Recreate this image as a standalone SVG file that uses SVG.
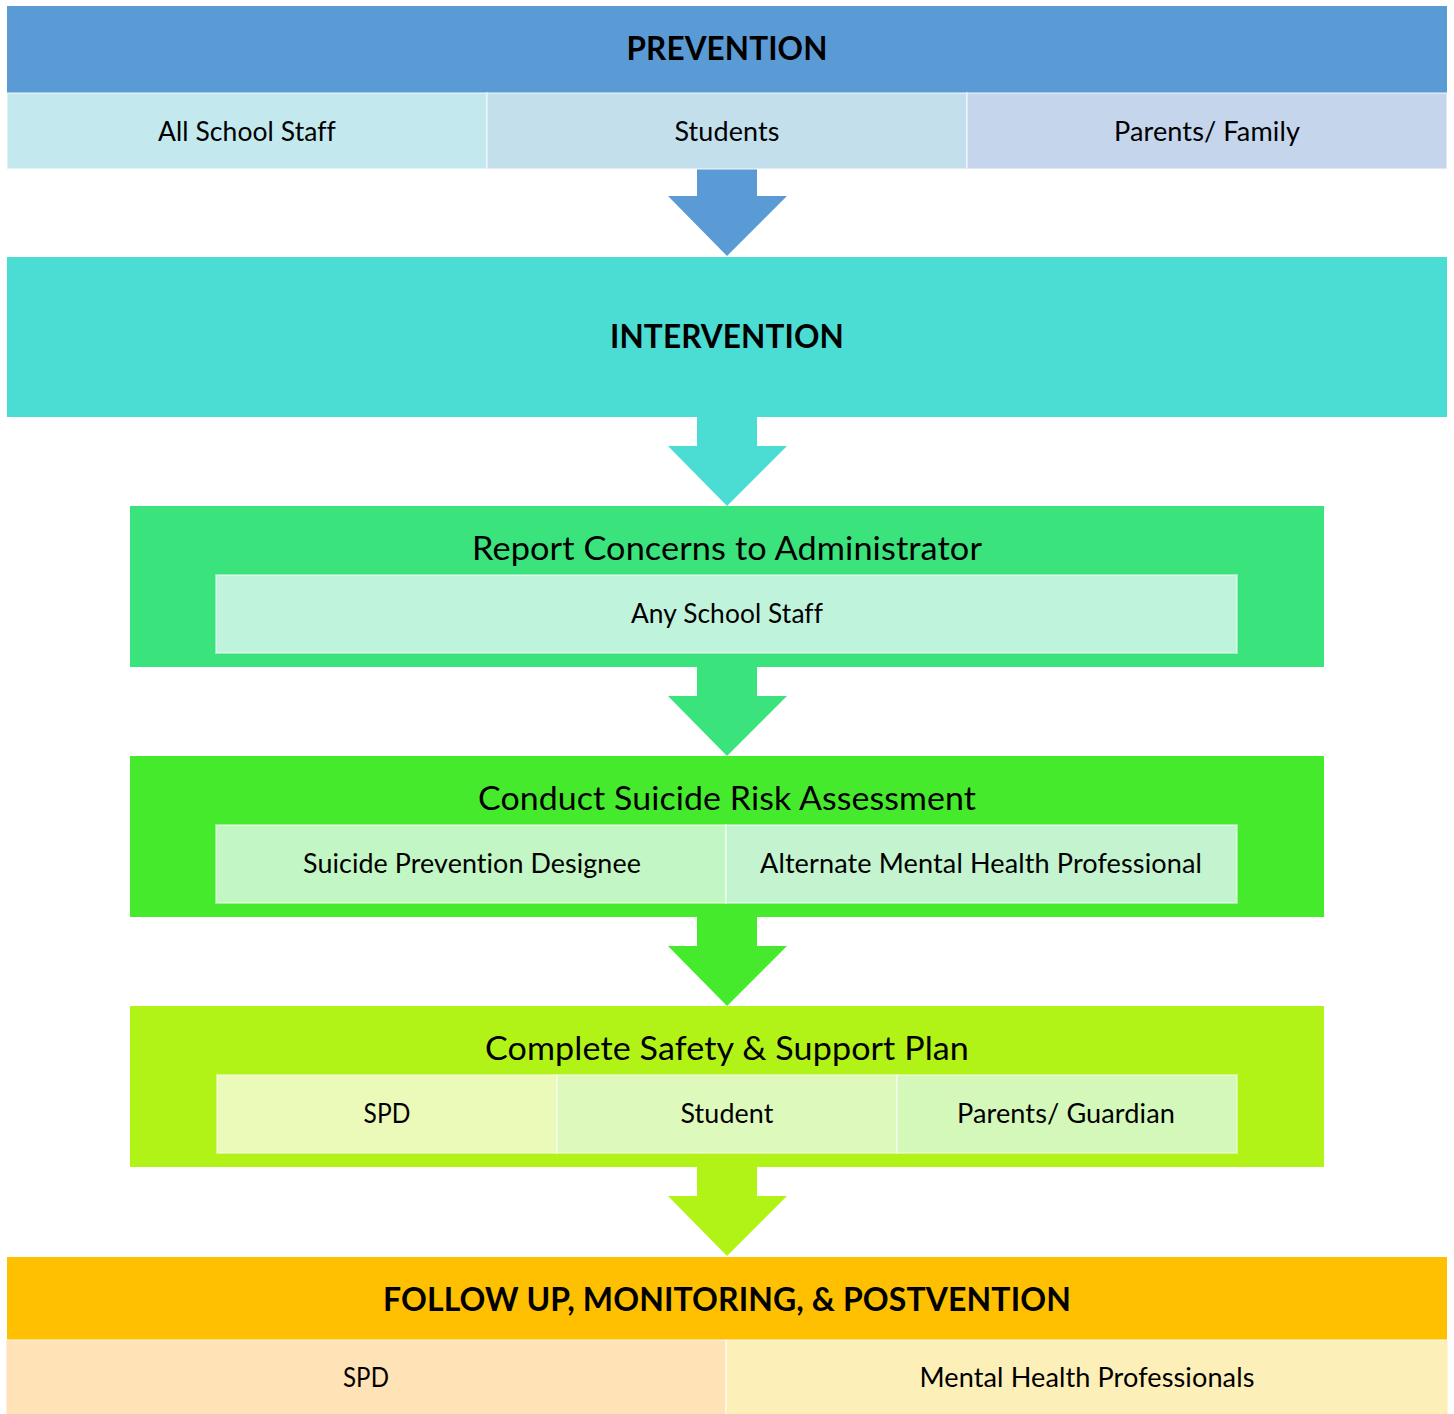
<svg xmlns="http://www.w3.org/2000/svg" width="1454" height="1414" viewBox="0 0 1454 1414">
<style>
text{font-family:Lato,"Open Sans","Liberation Sans",sans-serif;fill:#000;text-anchor:middle;font-variant-ligatures:none;font-feature-settings:"liga" 0,"clig" 0,"calt" 0,"dlig" 0;letter-spacing:0.1px}
.hd{font-weight:bold;font-size:33px}
.ti{font-size:32px}
.sb{font-size:26px}
.cell{stroke:#ffffff;stroke-opacity:0.45;stroke-width:2}
</style>
<rect width="1454" height="1414" fill="#ffffff"/>
<g id="connectors">
<polygon points="697,169 757,169 757,196 787,196 727,256 668,196 697,196" fill="#5B9BD5"/>
<polygon points="697,417 757,417 757,446 787,446 727,506 668,446 697,446" fill="#4BDDD3"/>
<polygon points="697,667 757,667 757,696 787,696 727,756 668,696 697,696" fill="#3BE37C"/>
<polygon points="697,917 757,917 757,946 787,946 727,1006 668,946 697,946" fill="#46EA2C"/>
<polygon points="697,1167 757,1167 757,1196 787,1196 727,1256 668,1196 697,1196" fill="#B2F317"/>
</g>
<g id="prevention">
<rect x="7" y="6" width="1440" height="87" fill="#5B9BD5"/>
<text class="hd" x="727" y="60" textLength="201" lengthAdjust="spacingAndGlyphs">PREVENTION</text>
<rect class="cell" x="7" y="93" width="480" height="76" fill="#C3E9EE"/>
<rect class="cell" x="487" y="93" width="480" height="76" fill="#C4DFEC"/>
<rect class="cell" x="967" y="93" width="480" height="76" fill="#C5D6EC"/>
<text class="sb" x="247" y="141" textLength="178" lengthAdjust="spacingAndGlyphs">All School Staff</text>
<text class="sb" x="727" y="141" textLength="105" lengthAdjust="spacingAndGlyphs">Students</text>
<text class="sb" x="1207" y="141" textLength="186" lengthAdjust="spacingAndGlyphs">Parents/ Family</text>
</g>
<g id="intervention">
<rect x="7" y="257" width="1440" height="160" fill="#4BDDD3"/>
<text class="hd" x="727" y="348" textLength="234" lengthAdjust="spacingAndGlyphs">INTERVENTION</text>
</g>
<g id="report">
<rect x="130" y="506" width="1194" height="161" fill="#3BE37C"/>
<text class="ti" x="727" y="560" textLength="510" lengthAdjust="spacingAndGlyphs">Report Concerns to Administrator</text>
<rect class="cell" x="216" y="575" width="1021" height="78" fill="#C0F3DC"/>
<text class="sb" x="727" y="623" textLength="192" lengthAdjust="spacingAndGlyphs">Any School Staff</text>
</g>
<g id="assessment">
<rect x="130" y="756" width="1194" height="161" fill="#46EA2C"/>
<text class="ti" x="727" y="810" textLength="498" lengthAdjust="spacingAndGlyphs">Conduct Suicide Risk Assessment</text>
<rect class="cell" x="216" y="825" width="510" height="78" fill="#C2F6C4"/>
<rect class="cell" x="726" y="825" width="511" height="78" fill="#C3F4CF"/>
<text class="sb" x="472" y="873" textLength="338" lengthAdjust="spacingAndGlyphs">Suicide Prevention Designee</text>
<text class="sb" x="981" y="873" textLength="442" lengthAdjust="spacingAndGlyphs">Alternate Mental Health Professional</text>
</g>
<g id="plan">
<rect x="130" y="1006" width="1194" height="161" fill="#B2F317"/>
<text class="ti" x="727" y="1060" textLength="484" lengthAdjust="spacingAndGlyphs">Complete Safety &amp; Support Plan</text>
<rect class="cell" x="217" y="1075" width="340" height="78" fill="#EBFAB8"/>
<rect class="cell" x="557" y="1075" width="340" height="78" fill="#DDF9BB"/>
<rect class="cell" x="897" y="1075" width="340" height="78" fill="#D3F8BA"/>
<text class="sb" x="387" y="1123" textLength="47" lengthAdjust="spacingAndGlyphs">SPD</text>
<text class="sb" x="727" y="1123" textLength="93" lengthAdjust="spacingAndGlyphs">Student</text>
<text class="sb" x="1066" y="1123" textLength="218" lengthAdjust="spacingAndGlyphs">Parents/ Guardian</text>
</g>
<g id="followup">
<rect x="7" y="1257" width="1440" height="83" fill="#FEC000"/>
<text class="hd" x="727" y="1311" textLength="688" lengthAdjust="spacingAndGlyphs">FOLLOW UP, MONITORING, &amp; POSTVENTION</text>
<rect class="cell" x="6" y="1340" width="720" height="76" fill="#FFE2B5"/>
<rect class="cell" x="726" y="1340" width="722" height="76" fill="#FDEFB8"/>
<text class="sb" x="366" y="1387" textLength="46" lengthAdjust="spacingAndGlyphs">SPD</text>
<text class="sb" x="1087" y="1387" textLength="335" lengthAdjust="spacingAndGlyphs">Mental Health Professionals</text>
</g>
</svg>
